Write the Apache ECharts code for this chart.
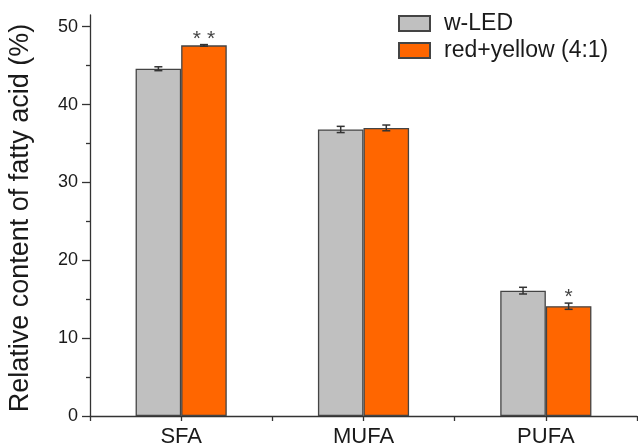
<!DOCTYPE html>
<html>
<head>
<meta charset="utf-8">
<script src="https://cdn.jsdelivr.net/npm/echarts@6/dist/echarts.min.js"></script>
<style>
html,body{margin:0;padding:0;background:#fff;}
#chart{width:638px;height:448px;}
</style>
</head>
<body>
<div id="chart"></div>
<script>
const categories = ['SFA', 'MUFA', 'PUFA'];
const seriesNames = ['w-LED', 'red+yellow (4:1)'];
const wLED = [44.6, 36.8, 16.1];
const wLEDErr = [0.25, 0.4, 0.43];
const wLEDSig = ['', '', ''];
const redYellow = [47.6, 37.0, 14.1];
const redYellowErr = [0.1, 0.37, 0.4];
const redYellowSig = ['**', '', '*'];
const yMajorTicks = [0, 10, 20, 30, 40, 50];
const yMinorTicks = [5, 15, 25, 35, 45];
const yTitle = 'Relative content of fatty acid (%)';

const FONT = '"Liberation Sans", Arial, sans-serif';
const AX = '#333333';

function errRender(vals, errs, sigs, side) {
  return function (params, api) {
    const i = params.dataIndex;
    const band = api.size([1, 0])[0];
    const c = api.coord([i, vals[i]]);
    const x = c[0] + side * band * 0.125;
    const top = api.coord([i, vals[i] + errs[i]])[1];
    const bot = api.coord([i, vals[i] - errs[i]])[1];
    const cap = 4;
    const st = { stroke: '#333', lineWidth: 1.5 };
    const children = [
      { type: 'line', shape: { x1: x, y1: top, x2: x, y2: bot }, style: st },
      { type: 'line', shape: { x1: x - cap, y1: top, x2: x + cap, y2: top }, style: st },
      { type: 'line', shape: { x1: x - cap, y1: bot, x2: x + cap, y2: bot }, style: st }
    ];
    if (sigs[i]) {
      children.push({
        type: 'text',
        style: {
          text: sigs[i].split('').join(' '), x: x, y: top + 5, align: 'center', verticalAlign: 'bottom',
          fill: '#444', font: '21px ' + FONT
        }
      });
    }
    return { type: 'group', children: children };
  };
}

const chart = echarts.init(document.getElementById('chart'), null, { renderer: 'canvas' });
chart.setOption({
  animation: false,
  textStyle: { fontFamily: FONT },
  grid: { left: 90, right: 1, top: 15, bottom: 32, containLabel: false, outerBoundsMode: 'none' },
  legend: {
    data: seriesNames,
    orient: 'vertical',
    left: 393,
    top: 7,
    icon: 'rect',
    itemWidth: 31,
    itemHeight: 15,
    itemGap: 4,
    textStyle: { fontSize: 23, color: '#1a1a1a', fontFamily: FONT, padding: [0, 0, 0, 9] }
  },
  xAxis: [
    {
      type: 'category', data: categories, position: 'bottom',
      axisLine: { show: true, lineStyle: { color: AX, width: 1.3 } },
      axisTick: { show: true, length: 5, lineStyle: { color: AX, width: 1.3 } },
      axisLabel: { fontSize: 22, color: '#1a1a1a', margin: 10, fontFamily: FONT },
      splitLine: { show: false }
    },
    {
      type: 'category', data: categories, position: 'bottom',
      axisLine: { show: false },
      axisTick: { show: true, alignWithLabel: true, length: 5, lineStyle: { color: AX, width: 1.3 } },
      axisLabel: { show: false },
      splitLine: { show: false }
    }
  ],
  yAxis: [
    {
      type: 'value', min: 0, max: 51.5, position: 'left',
      axisLine: { show: true, lineStyle: { color: AX, width: 1.3 } },
      axisTick: { show: true, length: 8, customValues: yMajorTicks, lineStyle: { color: AX, width: 1.3 } },
      axisLabel: { customValues: yMajorTicks, fontSize: 18, color: '#1a1a1a', margin: 12, fontFamily: FONT },
      splitLine: { show: false },
      name: yTitle, nameLocation: 'middle', nameGap: 56,
      nameTextStyle: { fontSize: 27, color: '#1a1a1a', fontFamily: FONT, padding: [0, 5, 0, 0] }
    },
    {
      type: 'value', min: 0, max: 51.5, position: 'left',
      axisLine: { show: false },
      axisTick: { show: true, length: 4, customValues: yMinorTicks, lineStyle: { color: AX, width: 1.3 } },
      axisLabel: { show: false },
      splitLine: { show: false }
    }
  ],
  series: [
    {
      name: seriesNames[0], type: 'bar', data: wLED, barWidth: '25%', barGap: '0%',
      itemStyle: { color: '#c0c0c0', borderColor: '#444', borderWidth: 1.3 }
    },
    {
      name: seriesNames[1], type: 'bar', data: redYellow, barWidth: '25%', barGap: '0%',
      itemStyle: { color: '#ff6600', borderColor: '#444', borderWidth: 1.3 }
    },
    {
      type: 'custom', z: 10, silent: true,
      data: categories.map((c, i) => [i, wLED[i]]),
      renderItem: errRender(wLED, wLEDErr, wLEDSig, -1)
    },
    {
      type: 'custom', z: 10, silent: true,
      data: categories.map((c, i) => [i, redYellow[i]]),
      renderItem: errRender(redYellow, redYellowErr, redYellowSig, 1)
    }
  ]
});
</script>
</body>
</html>
